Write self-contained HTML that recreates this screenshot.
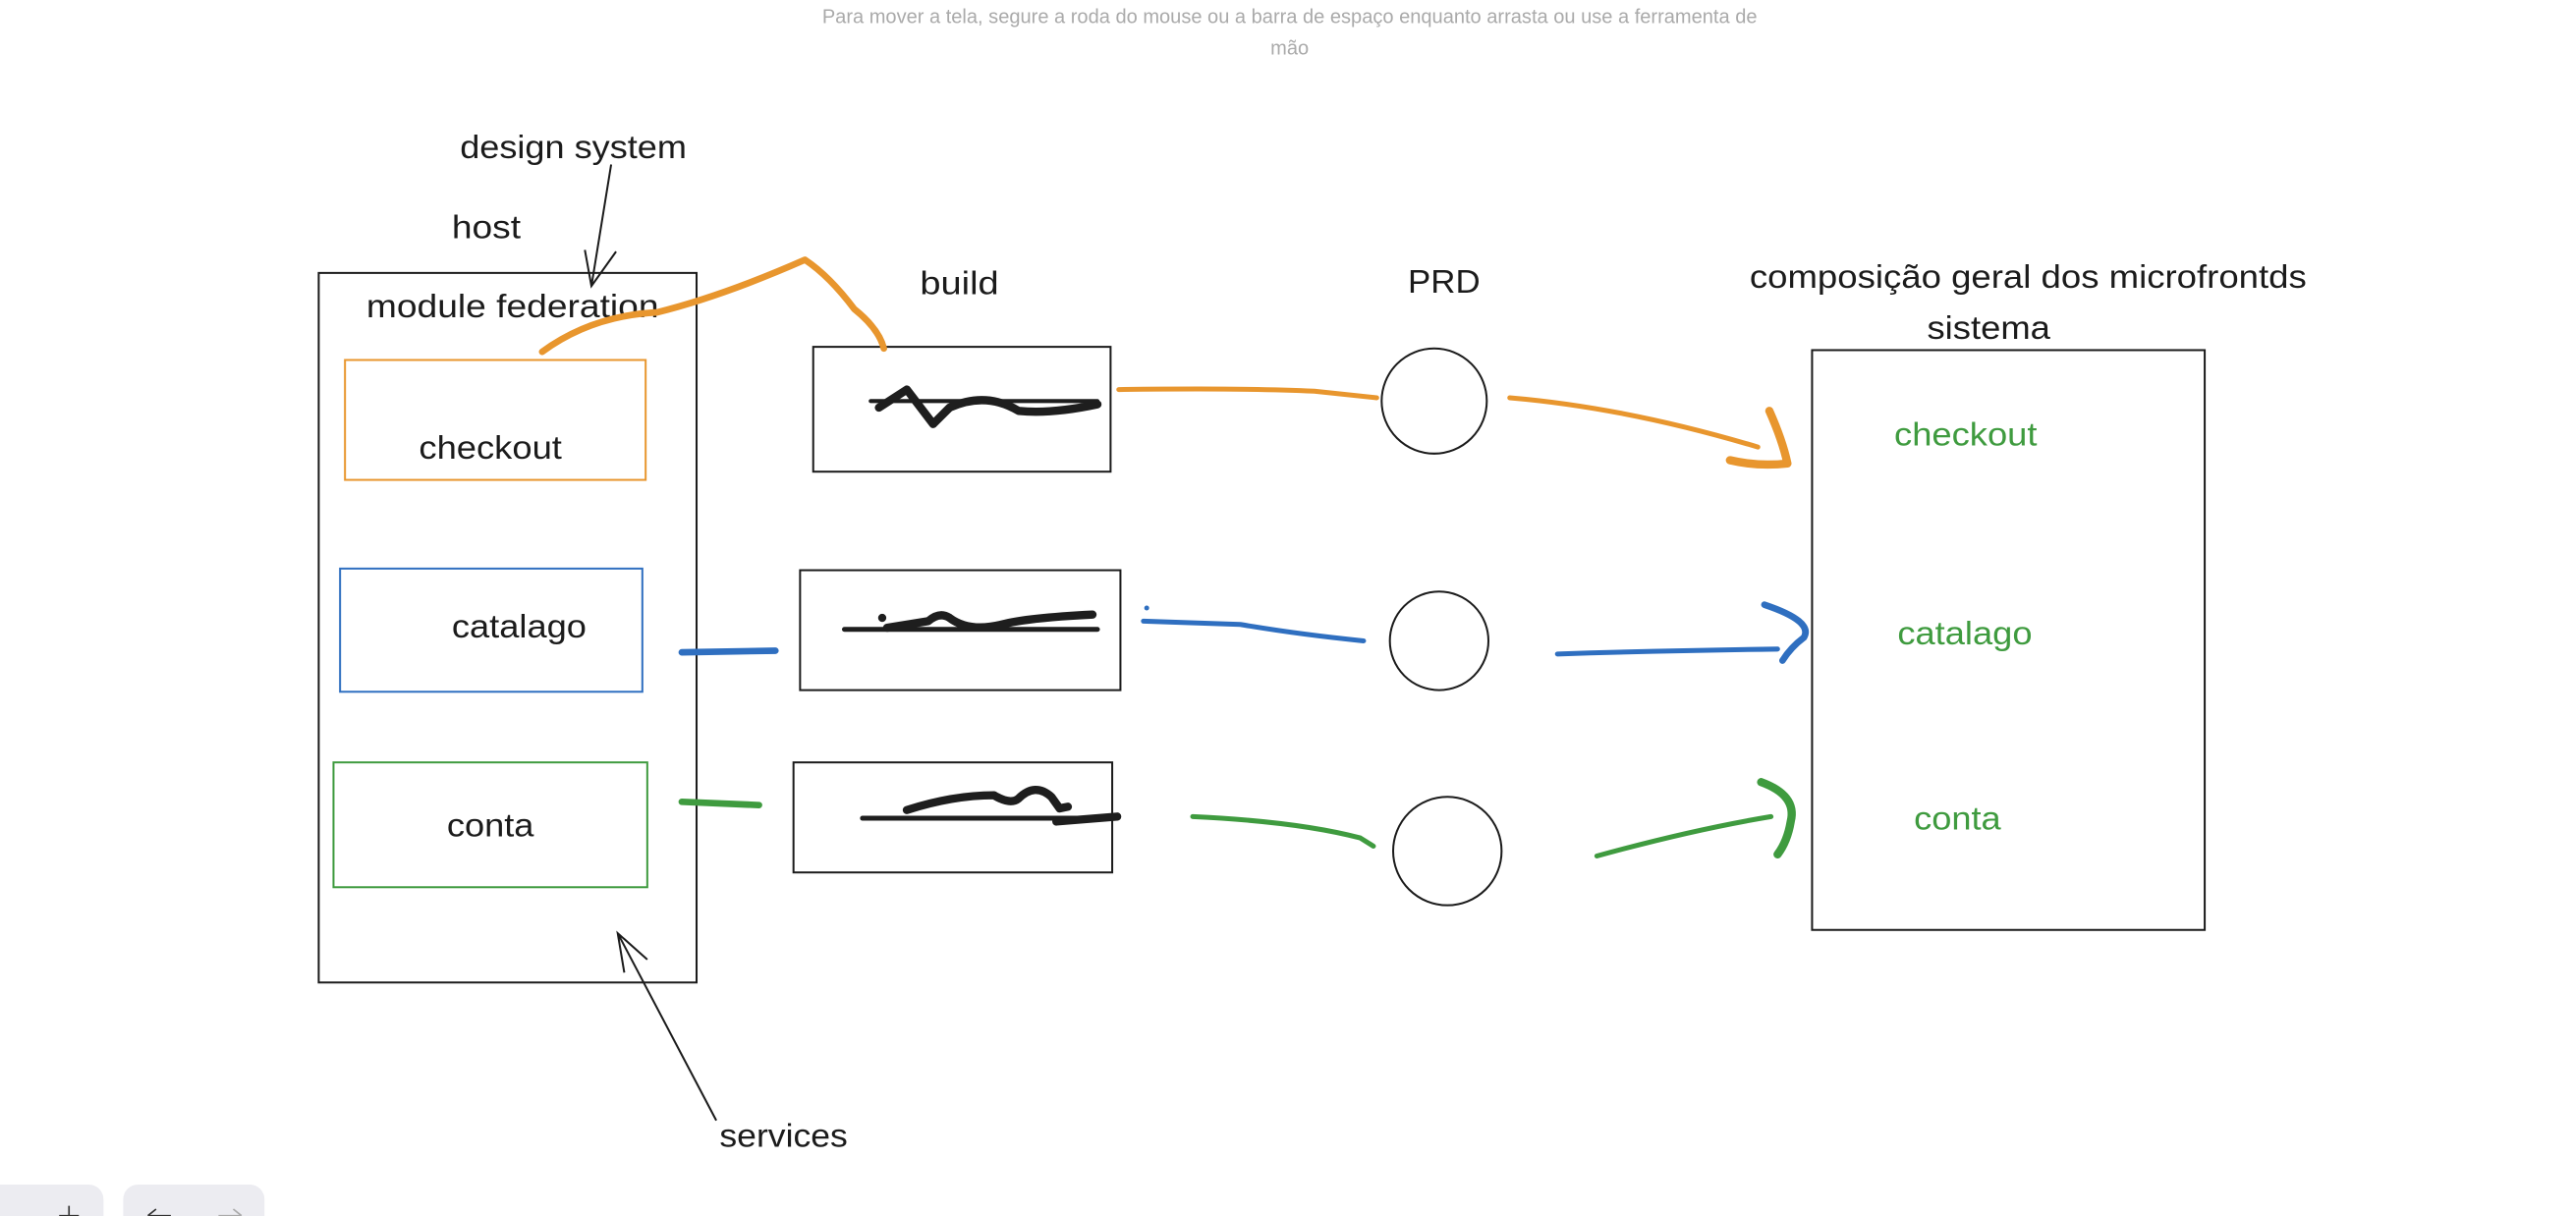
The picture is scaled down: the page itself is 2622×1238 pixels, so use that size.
<!DOCTYPE html>
<html><head><meta charset="utf-8"><style>
html,body{margin:0;padding:0;background:#fff;overflow:hidden}
svg{display:block}
text{font-family:"Liberation Sans",sans-serif}
</style></head><body>
<svg width="2622" height="1238" viewBox="0 0 1568 740" xmlns="http://www.w3.org/2000/svg">
<rect width="1568" height="740" fill="#fff"/>
<text x="785" y="14" font-size="12" fill="#aaa" text-anchor="middle">Para mover a tela, segure a roda do mouse ou a barra de espaço enquanto arrasta ou use a ferramenta de</text>
<text x="785" y="33" font-size="12" fill="#aaa" text-anchor="middle">mão</text>

<g font-size="20" fill="#1b1b1b">
<text x="280" y="96" textLength="138" lengthAdjust="spacingAndGlyphs">design system</text>
<text x="275" y="145" textLength="42" lengthAdjust="spacingAndGlyphs">host</text>
<text x="223" y="193" textLength="178" lengthAdjust="spacingAndGlyphs">module federation</text>
<text x="560" y="179" textLength="48" lengthAdjust="spacingAndGlyphs">build</text>
<text x="857" y="178" textLength="44" lengthAdjust="spacingAndGlyphs">PRD</text>
<text x="1065" y="175" textLength="339" lengthAdjust="spacingAndGlyphs">composição geral dos microfrontds</text>
<text x="1173" y="206" textLength="75" lengthAdjust="spacingAndGlyphs">sistema</text>
<text x="255" y="279" textLength="87" lengthAdjust="spacingAndGlyphs">checkout</text>
<text x="275" y="388" textLength="82" lengthAdjust="spacingAndGlyphs">catalago</text>
<text x="272" y="509" textLength="53" lengthAdjust="spacingAndGlyphs">conta</text>
<text x="438" y="698" textLength="78" lengthAdjust="spacingAndGlyphs">services</text>
</g>
<g font-size="20" fill="#3f9b3f">
<text x="1153" y="271" textLength="87" lengthAdjust="spacingAndGlyphs">checkout</text>
<text x="1155" y="392" textLength="82" lengthAdjust="spacingAndGlyphs">catalago</text>
<text x="1165" y="505" textLength="53" lengthAdjust="spacingAndGlyphs">conta</text>
</g>

<g fill="none" stroke="#1b1b1b" stroke-width="1.2">
<rect x="194" y="166" width="230" height="432"/>
<rect x="495" y="211" width="181" height="76"/>
<rect x="487" y="347" width="195" height="73"/>
<rect x="483" y="464" width="194" height="67"/>
<rect x="1103" y="213" width="239" height="353"/>
<circle cx="873" cy="244" r="32"/>
<circle cx="876" cy="390" r="30"/>
<circle cx="881" cy="518" r="33"/>
<path d="M372 100 L360 174 M356 152 L360 174 L375 153"/>
<path d="M436 682 L376 568 M394 584 L376 568 L380 592"/>
</g>
<rect x="210" y="219" width="183" height="73" fill="none" stroke="#e8962e" stroke-width="1.2"/>
<rect x="207" y="346" width="184" height="75" fill="none" stroke="#2f6fc0" stroke-width="1.2"/>
<rect x="203" y="464" width="191" height="76" fill="none" stroke="#3f9b3f" stroke-width="1.2"/>

<g fill="none" stroke="#1e1e1e" stroke-linecap="round" stroke-linejoin="round">
<path d="M535 248 L552 237 L568 258 L578 248 Q600 238 620 250 Q640 252 668 246" stroke-width="5"/>
<path d="M530 244 L668 244" stroke-width="2.5"/>
<path d="M514 383 L668 383" stroke-width="3"/>
<path d="M540 382 L565 378 Q572 372 578 376 Q590 385 610 380 Q625 376 665 374" stroke-width="5"/>
<circle cx="537" cy="376" r="2" fill="#1e1e1e"/>
<path d="M525 498 L680 498" stroke-width="3"/>
<path d="M552 493 Q580 484 605 484 Q615 490 620 486 Q630 476 640 485 L645 492 L650 491 M643 500 L680 497" stroke-width="5"/>
</g>

<g fill="none" stroke-linecap="round" stroke-linejoin="round">
<path d="M330 214 Q360 192 400 190 Q440 180 490 158 Q505 168 520 188 Q535 200 538 212" stroke="#e8962e" stroke-width="4"/>
<path d="M681 237 Q760 236 800 238 L838 242" stroke="#e8962e" stroke-width="3"/>
<path d="M919 242 Q990 248 1070 272" stroke="#e8962e" stroke-width="3"/>
<path d="M1077 250 Q1085 268 1088 282 Q1070 284 1053 280" stroke="#e8962e" stroke-width="5"/>
<path d="M415 397 L472 396" stroke="#2f6fc0" stroke-width="4"/>
<path d="M696 378 L755 380 Q790 386 830 390" stroke="#2f6fc0" stroke-width="3"/>
<circle cx="698" cy="370" r="1.5" fill="#2f6fc0"/>
<path d="M948 398 Q1010 396 1082 395" stroke="#2f6fc0" stroke-width="3"/>
<path d="M1074 368 Q1104 378 1098 388 Q1090 394 1085 402" stroke="#2f6fc0" stroke-width="4"/>
<path d="M415 488 L462 490" stroke="#3f9b3f" stroke-width="4"/>
<path d="M726 497 Q790 500 828 510 L836 515" stroke="#3f9b3f" stroke-width="3"/>
<path d="M972 521 Q1030 505 1078 497" stroke="#3f9b3f" stroke-width="3"/>
<path d="M1072 476 Q1094 484 1090 500 Q1088 512 1082 520" stroke="#3f9b3f" stroke-width="5"/>
</g>

<rect x="-10" y="721" width="73" height="40" rx="9" fill="#ececf1"/>
<rect x="75" y="721" width="86" height="40" rx="9" fill="#ececf1"/>
<path d="M42 734 L42 742 M36 740 L48 740" stroke="#333" stroke-width="1"/>
<path d="M90 740 L104 740 M90 740 L95 736" stroke="#333" stroke-width="1" fill="none"/>
<path d="M133 740 L147 740 M147 740 L142 736" stroke="#aaa" stroke-width="1" fill="none"/>
</svg>
</body></html>
